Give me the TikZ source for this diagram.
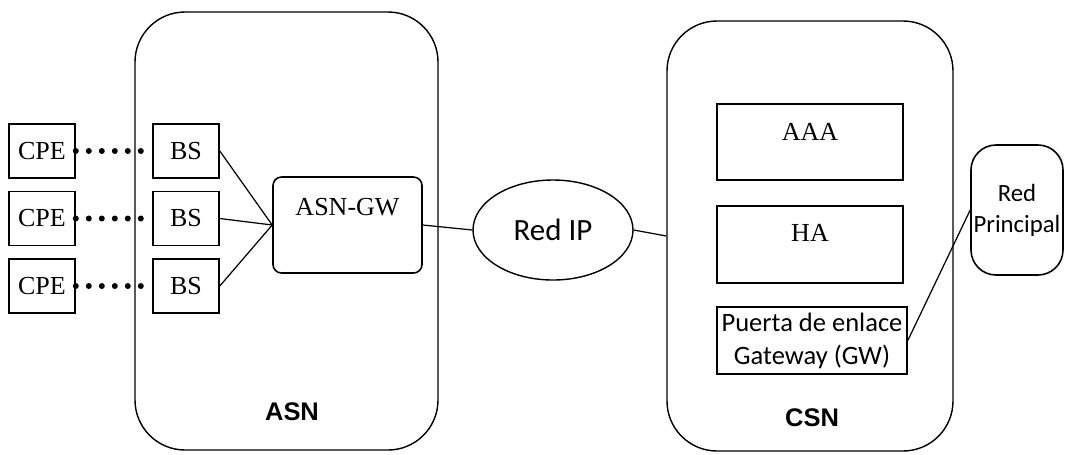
\documentclass[tikz,border=0pt]{standalone}
\usepackage{fontspec}
\usetikzlibrary{shapes.geometric}
\setmainfont{Liberation Serif}
\newfontfamily\calibrifont{Carlito}
\newfontfamily\arialfont{Liberation Sans}

\begin{document}
\begin{tikzpicture}[
  netzone/.style={shape=rectangle,draw=black,rounded corners=1cm,line width=0.8pt,inner sep=0pt},
  box/.style={shape=rectangle,draw=black,line width=0.9pt,inner sep=0pt},
  serif/.style={font=\fontsize{14.8}{17}\selectfont},
  radio/.style={line width=3.4pt,line cap=round,dash pattern=on 0pt off 7.4pt},
  every edge/.style={draw,line width=0.7pt}
]
  \useasboundingbox (0,0) rectangle (21.3,-9.08);
  % ASN and CSN zones
  \node[netzone,minimum width=6.06cm,minimum height=8.76cm] (asn) at (5.73,-4.62) {};
  \node[netzone,minimum width=5.72cm,minimum height=8.6cm] (csn) at (16.2,-4.72) {};
  \node[font=\arialfont\bfseries\fontsize{14.5}{17}\selectfont] (asnlabel) at (5.84,-8.24) {ASN};
  \node[font=\arialfont\bfseries\fontsize{14.5}{17}\selectfont] (csnlabel) at (16.24,-8.36) {CSN};
  % CPE and BS
  \node[box,serif,minimum width=1.32cm,minimum height=1.08cm] (cpe1) at (0.84,-3.02) {CPE};
  \node[box,serif,minimum width=1.32cm,minimum height=1.08cm] (cpe2) at (0.84,-4.37) {CPE};
  \node[box,serif,minimum width=1.32cm,minimum height=1.08cm] (cpe3) at (0.84,-5.72) {CPE};
  \node[box,serif,minimum width=1.32cm,minimum height=1.08cm] (bs1) at (3.72,-3.02) {BS};
  \node[box,serif,minimum width=1.32cm,minimum height=1.08cm] (bs2) at (3.72,-4.37) {BS};
  \node[box,serif,minimum width=1.32cm,minimum height=1.08cm] (bs3) at (3.72,-5.72) {BS};
  % ASN-GW and Red IP
  \node[box,rounded corners=0.17cm,minimum width=2.98cm,minimum height=1.92cm] (asngw) at (6.95,-4.5) {};
  \node[serif] (asngwtxt) at (6.95,-4.14) {ASN-GW};
  \node[shape=ellipse,draw=black,line width=0.8pt,minimum width=3.2cm,minimum height=2cm,inner sep=0pt,
        font=\calibrifont\fontsize{17.6}{20}\selectfont] (redip) at (11.06,-4.6) {Red IP};
  % CSN content
  \node[box,minimum width=3.72cm,minimum height=1.52cm] (aaa) at (16.2,-2.84) {};
  \node[serif] (aaatxt) at (16.2,-2.64) {AAA};
  \node[box,minimum width=3.72cm,minimum height=1.54cm] (ha) at (16.2,-4.89) {};
  \node[serif] (hatxt) at (16.2,-4.66) {HA};
  \node[box,minimum width=3.8cm,minimum height=1.34cm,align=center,
        font=\calibrifont\fontsize{15.1}{18.8}\selectfont] (gw) at (16.24,-6.81) {Puerta de enlace\\Gateway (GW)};
  \node[box,rounded corners=0.5cm,minimum width=1.84cm,minimum height=2.6cm,align=center,
        font=\calibrifont\fontsize{14.1}{17.6}\selectfont] (redprin) at (20.34,-4.2) {Red\\Principal};
  % links
  \draw[radio] (cpe1.east) -- (bs1.west);
  \draw[radio] (cpe2.east) -- (bs2.west);
  \draw[radio] (cpe3.east) -- (bs3.west);
  \path (bs1.east) edge (asngw.west);
  \path (bs2.east) edge (asngw.west);
  \path (bs3.east) edge (asngw.west);
  \path (asngw.east) edge (redip.west);
  \path (redip.east) edge (csn.west);
  \path (gw.east) edge (redprin.west);
\end{tikzpicture}
\end{document}
